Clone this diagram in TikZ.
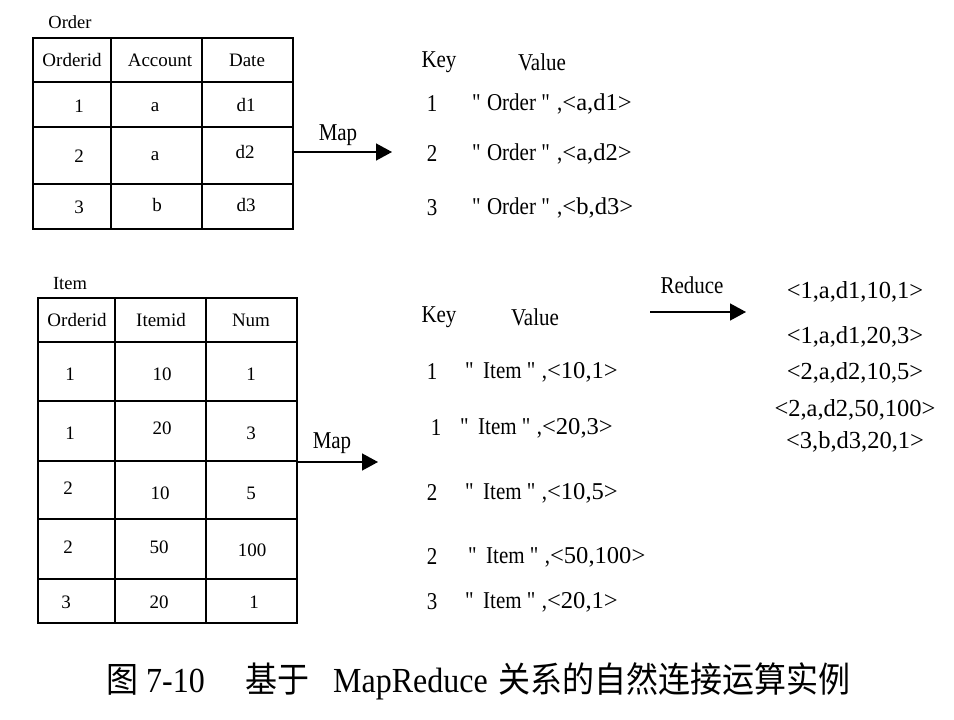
\documentclass[tikz,border=0pt]{standalone}
\usepackage{graphicx}
\usepackage{fontspec}
\setmainfont{Liberation Serif}
\newfontfamily\rawser{Liberation Serif}[Ligatures=ResetAll]
\newfontfamily\cjk{Noto Sans CJK SC}
\usetikzlibrary{arrows.meta}
\newcommand\dq{{\rawser\symbol{34}}}
\newcommand\vs[1]{\scalebox{1}[1.15]{#1}}
\newcommand\tup[1]{\scalebox{1.17}[1]{#1}}
\newcommand\okv[1]{\vs{\dq\hspace{0.3em}Order\hspace{0.25em}\dq\hspace{0.35em},\tup{#1}}}
\newcommand\ikv[1]{\vs{\dq\hspace{0.45em}Item\hspace{0.25em}\dq\hspace{0.3em},\tup{#1}}}
\begin{document}
\begin{tikzpicture}[x=1pt,y=-1pt,
  tab/.style={line width=1.5pt},
  cell/.style={font=\fontsize{19}{19}\selectfont, inner sep=0pt},
  lbl/.style={font=\fontsize{18.5}{19}\selectfont, inner sep=0pt},
  kv/.style={font=\fontsize{21}{21}\selectfont, inner sep=0pt, anchor=west},
  kvh/.style={font=\fontsize{21}{21}\selectfont, inner sep=0pt},
  res/.style={font=\fontsize{24.5}{25}\selectfont, inner sep=0pt},
  arr/.style={line width=1.5pt, -{Triangle[length=16pt,width=17pt]}},
  captext/.style={inner sep=0pt, anchor=base west, font=\fontsize{32}{32}\selectfont}]
\useasboundingbox[fill=white] (0,0) rectangle (954,720);

% ---------- Order table ----------
\node[lbl] (orderlbl) at (70,22) {Order};
\draw[tab] (33,38) rectangle (293,229);
\draw[tab] (33,82) -- (293,82) (33,127) -- (293,127) (33,184) -- (293,184);
\draw[tab] (111,38) -- (111,229) (202,38) -- (202,229);
\node[cell] (oh1) at (72,60) {Orderid};
\node[cell] (oh2) at (160,60) {Account};
\node[cell] (oh3) at (247,60) {Date};
\node[cell] (o11) at (79,106) {1};
\node[cell] (o12) at (155,107) {a};
\node[cell] (o13) at (246,105) {d1};
\node[cell] (o21) at (79,156) {2};
\node[cell] (o22) at (155,156) {a};
\node[cell] (o23) at (245,152) {d2};
\node[cell] (o31) at (79,207) {3};
\node[cell] (o32) at (157,205) {b};
\node[cell] (o33) at (246,205) {d3};

\coordinate (m1s) at (293,152);
\coordinate (m1e) at (392,152);
\draw[arr] (m1s) -- (m1e);
\node[kvh] (map1) at (338,135) {\vs{Map}};

% ---------- Order key/value ----------
\node[kvh] (k1) at (439,62) {\vs{Key}};
\node[kvh] (v1) at (542,62) {\vs{Value}};
\node[kvh] (ok1) at (432,104) {\vs{1}};
\node[kv] (ov1) at (472,104) {\okv{<a,d1>}};
\node[kvh] (ok2) at (432,154) {\vs{2}};
\node[kv] (ov2) at (472,154) {\okv{<a,d2>}};
\node[kvh] (ok3) at (432,208) {\vs{3}};
\node[kv] (ov3) at (472,208) {\okv{<b,d3>}};

% ---------- Item table ----------
\node[lbl] (itemlbl) at (70,284) {Item};
\draw[tab] (38,298) rectangle (297,623);
\draw[tab] (38,342) -- (297,342) (38,401) -- (297,401) (38,461) -- (297,461)
           (38,519) -- (297,519) (38,579) -- (297,579);
\draw[tab] (115,298) -- (115,623) (206,298) -- (206,623);
\node[cell] (ih1) at (77,320) {Orderid};
\node[cell] (ih2) at (161,320) {Itemid};
\node[cell] (ih3) at (251,320) {Num};
\node[cell] (i11) at (70,374) {1};
\node[cell] (i12) at (162,374) {10};
\node[cell] (i13) at (251,374) {1};
\node[cell] (i21) at (70,433) {1};
\node[cell] (i22) at (162,428) {20};
\node[cell] (i23) at (251,433) {3};
\node[cell] (i31) at (68,488) {2};
\node[cell] (i32) at (160,493) {10};
\node[cell] (i33) at (251,493) {5};
\node[cell] (i41) at (68,547) {2};
\node[cell] (i42) at (159,547) {50};
\node[cell] (i43) at (252,550) {100};
\node[cell] (i51) at (66,602) {3};
\node[cell] (i52) at (159,602) {20};
\node[cell] (i53) at (254,602) {1};

\coordinate (m2s) at (297,462);
\coordinate (m2e) at (378,462);
\draw[arr] (m2s) -- (m2e);
\node[kvh] (map2) at (332,443) {\vs{Map}};

% ---------- Item key/value ----------
\node[kvh] (k2) at (439,317) {\vs{Key}};
\node[kvh] (v2) at (535,317) {\vs{Value}};
\node[kvh] (ik1) at (432,372) {\vs{1}};
\node[kv] (iv1) at (465,372) {\ikv{<10,1>}};
\node[kvh] (ik2) at (436,428) {\vs{1}};
\node[kv] (iv2) at (460,428) {\ikv{<20,3>}};
\node[kvh] (ik3) at (432,493) {\vs{2}};
\node[kv] (iv3) at (465,493) {\ikv{<10,5>}};
\node[kvh] (ik4) at (432,557) {\vs{2}};
\node[kv] (iv4) at (468,557) {\ikv{<50,100>}};
\node[kvh] (ik5) at (432,602) {\vs{3}};
\node[kv] (iv5) at (465,602) {\ikv{<20,1>}};

% ---------- Reduce ----------
\coordinate (rs) at (650,312);
\coordinate (re) at (746,312);
\draw[arr] (rs) -- (re);
\node[kvh] (redlbl) at (692,285) {\vs{Reduce}};
\node[res] (r1) at (855,292) {<1,a,d1,10,1>};
\node[res] (r2) at (855,337) {<1,a,d1,20,3>};
\node[res] (r3) at (855,373) {<2,a,d2,10,5>};
\node[res] (r4) at (855,410) {<2,a,d2,50,100>};
\node[res] (r5) at (855,442) {<3,b,d3,20,1>};

% ---------- Caption ----------
\node[captext] (c1) at (106,692) {\scalebox{1}[1.1]{\cjk 图}};
\node[captext] (c2) at (146,692) {\scalebox{1}[1.1]{7-10}};
\node[captext] (c3) at (245,692) {\scalebox{1}[1.1]{\cjk 基于}};
\node[captext] (c4) at (333,692) {\scalebox{1}[1.1]{MapReduce}};
\node[captext] (c5) at (498,692) {\scalebox{1}[1.1]{\cjk 关系的自然连接运算实例}};
\end{tikzpicture}
\end{document}
